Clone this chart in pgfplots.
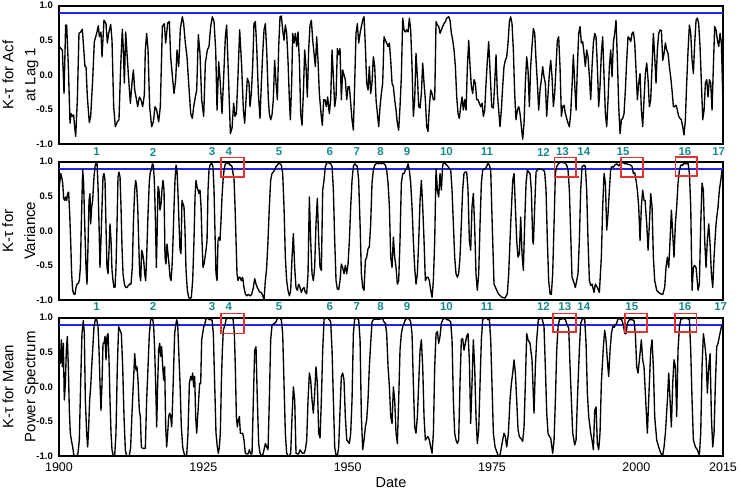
\documentclass[border=0pt]{standalone}
\usepackage{pgfplots}
\pgfplotsset{compat=1.18}
\usepackage{fontspec}
\setmainfont{Liberation Sans}
\definecolor{ktblue}{RGB}{35,35,235}
\definecolor{ktred}{RGB}{228,50,50}
\definecolor{ktteal}{RGB}{25,138,140}
\pgfplotsset{
  ktpanel/.style={
    scale only axis, width=664pt, height=138.3pt,
    xmin=1900, xmax=2015, ymin=-1, ymax=1, clip=false,
    axis line style={line width=1.8pt},
    major tick length=0pt,
    ytick={-1,-0.5,0,0.5,1}, yticklabels={-1.0,-0.5,0.0,0.5,1.0},
    yticklabel style={font=\bfseries\fontsize{9.5}{10}\selectfont, inner sep=0pt, xshift=-6pt},
    xtick={1900,1925,1950,1975,2000,2015}, xticklabels={},
    ylabel style={font=\fontsize{15}{22}\selectfont, align=center, inner sep=0pt, anchor=south},
  },
  curve/.style={black, line width=1.35pt, line join=round, no markers},
  thr/.style={ktblue, line width=1.8pt, no markers},
}
\tikzset{
  num/.style={font=\bfseries\fontsize{11.5}{12}\selectfont, text=ktteal},
  box/.style={ktred, line width=1.6pt},
}
\begin{document}
\begin{tikzpicture}
\useasboundingbox (-59pt,0pt) rectangle (682pt,-492pt);

% ---------- panel 1: acf at lag 1
\begin{axis}[ktpanel, at={(0pt,-5.7pt)}, anchor=north west,
  ylabel={K-τ for Acf\\at Lag 1},
  ylabel style={at={(axis description cs:-0.0306,0.5)}}]
\addplot[thr] coordinates {(1900,0.89) (2015,0.89)};
\addplot[curve] coordinates {
(1900.06,0.41)(1900.35,0.38)(1900.58,0.36)(1900.87,-0.27)(1901.15,0.72)(1901.33,0.72)(1901.62,0.12)(1901.91,-0.70)
(1902.08,-0.56)(1902.31,-0.60)(1902.54,-0.58)(1902.71,-0.75)(1902.89,-0.89)(1903.18,-0.36)(1903.46,0.60)(1903.75,0.62)
(1904.04,0.66)(1904.21,0.46)(1904.50,0.12)(1904.68,0.12)(1904.91,-0.32)(1905.25,-0.69)(1905.49,-0.60)(1905.83,-0.07)
(1906.12,0.48)(1906.52,0.60)(1906.81,0.71)(1906.99,0.55)(1907.27,0.62)(1907.45,0.26)(1907.79,0.79)(1908.14,0.74)
(1908.37,0.46)(1908.60,0.60)(1908.95,0.73)(1909.18,0.50)(1909.47,-0.46)(1909.76,-0.75)(1910.10,-0.68)(1910.39,-0.65)
(1910.68,0.12)(1910.97,0.66)(1911.14,0.36)(1911.32,-0.12)(1911.55,0.62)(1911.78,0.31)(1912.07,-0.07)(1912.36,-0.41)
(1912.64,-0.12)(1912.88,0.07)(1913.11,-0.22)(1913.34,-0.32)(1913.63,-0.46)(1913.91,-0.32)(1914.20,-0.36)(1914.49,-0.46)
(1914.78,-0.29)(1914.95,0.36)(1915.18,0.60)(1915.42,0.36)(1915.70,-0.46)(1916.05,-0.75)(1916.34,-0.68)(1916.63,-0.46)
(1916.92,-0.51)(1917.26,-0.68)(1917.55,-0.46)(1917.90,0.70)(1918.24,0.74)(1918.48,0.46)(1918.82,0.75)(1919.11,0.77)
(1919.34,0.26)(1919.69,-0.07)(1919.92,-0.27)(1920.21,-0.07)(1920.44,0.36)(1920.73,0.12)(1921.02,0.67)(1921.36,0.84)
(1921.59,0.74)(1921.88,0.46)(1922.17,0.26)(1922.46,-0.12)(1922.81,-0.56)(1923.09,-0.63)(1923.33,-0.46)(1923.61,-0.32)
(1923.85,-0.22)(1924.13,0.58)(1924.42,0.31)(1924.71,-0.36)(1925.06,-0.60)(1925.35,0.17)(1925.69,0.36)(1925.98,0.41)
(1926.27,0.70)(1926.56,0.84)(1926.85,0.77)(1927.14,0.36)(1927.37,-0.51)(1927.66,0.19)(1927.94,-0.12)(1928.23,-0.56)
(1928.52,-0.03)(1928.81,0.55)(1929.04,0.72)(1929.39,-0.12)(1929.68,-0.85)(1929.97,-0.77)(1930.25,-0.41)(1930.48,-0.60)
(1930.72,-0.56)(1930.95,-0.12)(1931.29,0.65)
(1931.64,0.12)(1931.93,-0.51)(1932.16,-0.70)(1932.39,-0.36)(1932.62,-0.05)(1932.91,-0.12)(1933.08,-0.46)(1933.31,-0.27)
(1933.54,0.12)(1933.77,0.74)(1934.01,0.77)(1934.24,0.41)(1934.53,-0.27)(1934.81,-0.63)(1935.05,-0.12)(1935.28,0.31)
(1935.51,0.65)(1935.74,0.74)(1935.97,0.36)(1936.26,-0.36)(1936.43,-0.56)(1936.66,-0.65)(1936.89,-0.58)(1937.12,-0.36)
(1937.35,0.21)(1937.59,-0.12)(1937.82,-0.36)(1938.05,0.41)(1938.28,0.84)(1938.51,0.85)(1938.74,0.65)(1938.97,0.50)
(1939.20,0.72)(1939.43,0.60)(1939.66,0.21)(1939.90,-0.36)(1940.07,-0.65)(1940.30,-0.12)(1940.47,0.60)(1940.70,0.46)
(1940.93,0.60)(1941.17,0.41)(1941.40,0.62)(1941.63,0.21)(1941.86,-0.56)(1942.09,-0.73)(1942.32,-0.27)(1942.55,0.36)
(1942.78,0.12)(1943.01,-0.32)(1943.24,0.36)(1943.47,0.72)(1943.71,0.79)(1943.94,0.50)(1944.17,0.31)(1944.40,0.12)
(1944.63,0.55)(1944.86,0.21)(1945.09,-0.27)(1945.38,-0.56)(1945.61,-0.73)(1945.84,-0.36)(1946.07,-0.36)(1946.30,-0.46)
(1946.53,-0.32)(1946.82,-0.56)(1947.05,-0.36)(1947.29,0.36)(1947.52,-0.03)(1947.75,-0.46)(1947.98,-0.32)(1948.21,0.38)
(1948.44,0.29)(1948.67,0.38)(1948.90,-0.36)(1949.13,0.07)(1949.36,0.00)(1949.59,-0.07)(1949.83,-0.36)(1950.06,-0.17)
(1950.29,-0.17)(1950.52,-0.41)(1950.75,-0.65)(1950.98,-0.80)(1951.21,-0.12)(1951.44,0.60)(1951.67,0.74)(1951.90,0.46)
(1952.14,0.60)(1952.37,0.70)(1952.60,0.79)(1952.83,0.84)(1953.06,0.41)(1953.29,-0.12)(1953.52,-0.22)(1953.75,0.12)
(1953.98,-0.27)(1954.21,-0.12)(1954.44,0.26)(1954.68,0.12)(1954.91,-0.36)(1955.14,-0.56)(1955.37,-0.75)(1955.60,-0.46)
(1955.83,-0.27)(1956.06,-0.12)(1956.29,0.55)(1956.52,0.50)(1956.75,0.46)(1956.99,0.41)(1957.22,0.46)(1957.45,0.21)
(1957.68,-0.12)(1957.91,-0.17)(1958.14,-0.36)(1958.37,-0.51)(1958.60,-0.70)(1958.83,-0.80)(1959.06,-0.46)(1959.29,-0.03)
(1959.53,0.82)(1959.76,0.65)(1959.99,0.62)(1960.22,0.65)(1960.45,0.62)(1960.68,0.82)(1960.91,0.65)(1961.14,0.12)
(1961.37,-0.60)(1961.60,-0.36)(1961.83,0.31)(1962.07,-0.03)(1962.30,-0.46)(1962.53,-0.48)(1962.76,-0.27)(1962.99,0.17)
(1963.22,-0.12)(1963.45,-0.36)(1963.68,-0.75)(1963.91,-0.82)(1964.14,-0.46)(1964.38,-0.22)(1964.61,-0.27)(1964.84,-0.36)
(1965.07,-0.36)(1965.30,0.77)(1965.53,0.72)(1965.76,0.70)(1965.99,0.60)(1966.22,0.65)(1966.45,0.70)(1966.68,0.74)
(1966.92,0.77)(1967.15,0.82)(1967.49,0.84)(1967.72,0.79)(1967.96,0.60)(1968.19,0.50)(1968.42,0.36)(1968.65,0.12)
(1968.88,-0.32)(1969.11,-0.56)(1969.34,-0.63)(1969.57,-0.46)(1969.80,-0.32)(1970.03,-0.51)(1970.26,-0.36)(1970.50,-0.51)
(1970.73,0.12)(1970.96,0.50)(1971.19,0.12)(1971.42,-0.17)(1971.65,-0.27)(1971.88,-0.07)(1972.11,-0.12)(1972.34,-0.36)
(1972.57,-0.36)(1972.80,-0.41)(1973.04,-0.46)(1973.27,-0.41)(1973.50,-0.60)(1973.73,-0.51)(1973.96,-0.12)(1974.19,0.21)
(1974.42,0.48)
(1974.94,-0.46)(1975.23,-0.48)(1975.46,-0.12)(1975.69,0.29)(1975.92,-0.27)(1976.15,-0.51)(1976.38,-0.75)(1976.61,-0.51)
(1976.84,-0.17)(1977.07,0.12)(1977.31,0.21)(1977.54,0.26)(1977.77,0.46)(1978.00,0.77)(1978.23,0.84)(1978.46,0.74)
(1978.69,0.36)(1978.92,-0.27)(1979.15,-0.65)(1979.38,-0.51)(1979.62,-0.46)(1979.85,-0.56)(1980.08,-0.75)(1980.31,-0.93)
(1980.54,-0.70)(1980.77,-0.12)(1981.00,0.26)(1981.23,0.07)(1981.46,-0.46)(1981.69,0.12)(1981.92,0.41)(1982.16,0.67)
(1982.39,0.60)(1982.62,0.21)(1982.85,-0.12)(1983.08,-0.51)(1983.31,-0.22)(1983.54,-0.07)(1983.77,0.12)(1984.00,-0.03)
(1984.23,-0.12)(1984.47,-0.60)(1984.70,-0.27)(1984.93,0.02)(1985.16,0.21)(1985.39,-0.03)(1985.62,-0.46)(1985.85,-0.27)
(1986.08,0.12)(1986.31,0.50)(1986.54,0.55)(1986.77,0.12)(1987.01,-0.60)(1987.24,-0.46)(1987.47,-0.44)(1987.70,-0.56)
(1987.93,-0.63)(1988.16,-0.70)(1988.39,-0.75)(1988.62,-0.56)(1988.85,-0.17)(1989.08,0.29)(1989.31,-0.12)(1989.55,-0.51)
(1989.78,0.12)(1990.01,0.60)(1990.24,0.70)(1990.47,0.46)(1990.70,0.48)(1990.93,0.31)(1991.16,0.12)(1991.39,0.36)
(1991.62,0.26)(1991.86,-0.03)(1992.09,-0.36)(1992.32,0.12)(1992.55,0.46)(1992.78,0.60)(1993.01,0.55)(1993.24,0.12)
(1993.47,-0.46)(1993.70,-0.17)(1993.93,0.31)(1994.16,0.55)(1994.40,-0.03)(1994.63,-0.56)(1994.86,-0.75)(1995.09,-0.36)
(1995.32,0.12)(1995.55,0.36)(1995.78,-0.03)(1996.01,0.46)(1996.24,0.60)(1996.47,0.79)(1996.71,0.21)(1996.94,-0.46)
(1997.17,-0.85)(1997.40,-0.65)(1997.63,-0.63)(1997.86,-0.56)(1998.09,-0.22)(1998.32,0.21)(1998.55,0.55)(1998.78,0.53)
(1999.02,0.48)(1999.25,0.60)(1999.48,0.62)(1999.71,0.46)(1999.94,0.07)(2000.17,-0.36)(2000.40,-0.12)(2000.63,0.02)
(2000.86,-0.51)(2001.09,-0.75)(2001.32,-0.36)(2001.55,0.02)(2001.79,0.17)(2002.02,-0.07)(2002.25,-0.46)(2002.48,-0.36)
(2002.71,0.12)(2002.94,0.60)(2003.17,0.26)(2003.40,-0.12)(2003.63,0.36)(2003.86,0.60)(2004.10,0.65)(2004.33,0.64)
(2004.56,0.21)(2004.79,0.31)(2005.02,0.46)(2005.25,0.36)(2005.48,0.31)(2005.71,0.12)(2005.94,-0.03)(2006.17,-0.22)
(2006.41,-0.46)(2006.64,-0.46)(2006.87,-0.44)(2007.10,-0.51)(2007.33,-0.60)(2007.56,-0.63)(2007.79,-0.65)(2008.02,-0.75)
(2008.25,-0.87)(2008.48,-0.65)(2008.71,-0.12)(2008.95,0.36)(2009.18,0.72)(2009.41,0.60)(2009.64,0.21)(2009.87,0.02)
(2010.10,0.46)(2010.33,0.79)(2010.56,0.82)(2010.79,0.74)(2011.02,0.41)(2011.26,-0.12)(2011.49,-0.65)(2011.72,-0.51)
(2011.95,-0.12)(2012.18,-0.07)(2012.41,-0.32)(2012.64,-0.07)(2012.87,-0.12)(2013.10,-0.51)(2013.33,0.12)(2013.56,0.70)
(2013.79,0.65)(2014.03,0.50)(2014.26,0.41)(2014.49,0.60)(2014.72,0.46)(2014.95,-0.27)
};
\end{axis}

% ---------- panel 2: variance
\begin{axis}[ktpanel, at={(0pt,-161.7pt)}, anchor=north west,
  ylabel={K-τ for\\Variance},
  ylabel style={at={(axis description cs:-0.0354,0.5)}}]
\addplot[thr] coordinates {(1900,0.9) (2015,0.9)};
\addplot[curve] coordinates {
(1900.06,0.64)(1900.29,0.83)(1900.46,0.78)(1900.64,0.69)(1900.81,0.47)(1900.98,0.44)(1901.15,0.49)(1901.33,0.44)
(1901.50,0.54)(1901.67,0.56)(1901.85,0.25)(1902.02,-0.14)(1902.19,-0.62)(1902.37,-0.86)(1902.54,-0.91)(1902.77,-0.92)
(1902.94,-0.82)(1903.12,-0.77)(1903.35,-0.76)(1903.52,-0.72)(1903.70,-0.53)(1903.87,0.10)(1904.10,0.89)(1904.27,0.69)
(1904.45,0.10)(1904.68,-0.53)(1904.85,-0.77)(1905.02,-0.23)(1905.20,0.44)(1905.37,0.54)(1905.49,0.10)(1905.66,0.35)
(1905.83,0.44)(1906.06,0.78)(1906.24,0.93)(1906.41,0.99)(1906.58,0.99)(1906.76,0.64)(1906.93,0.10)(1907.10,-0.53)
(1907.27,-0.14)(1907.45,0.35)(1907.62,0.78)(1907.79,0.83)(1907.97,0.73)(1908.14,0.06)(1908.31,-0.53)(1908.49,-0.62)
(1908.66,-0.28)(1908.83,0.10)(1909.01,-0.14)(1909.18,-0.57)(1909.35,-0.72)(1909.53,-0.82)(1909.70,-0.82)(1909.87,-0.53)
(1910.05,0.10)(1910.22,0.78)(1910.39,0.85)(1910.57,0.78)(1910.74,0.35)(1910.91,-0.23)(1911.09,-0.62)(1911.32,-0.77)
(1911.55,-0.82)(1911.78,-0.82)(1912.01,-0.79)(1912.24,-0.77)(1912.47,-0.77)(1912.70,-0.53)(1912.88,0.10)(1913.11,0.59)
(1913.28,0.73)(1913.45,0.64)(1913.63,0.35)(1913.80,-0.14)(1913.97,-0.62)(1914.15,-0.72)(1914.32,-0.28)(1914.49,-0.33)
(1914.67,-0.43)(1914.84,-0.62)(1915.01,-0.72)(1915.18,-0.38)(1915.42,0.25)(1915.65,0.73)(1915.82,0.85)(1915.99,0.88)
(1916.17,0.97)(1916.34,0.95)(1916.51,0.73)(1916.69,0.20)(1916.86,-0.53)(1916.97,-0.14)(1917.15,0.64)(1917.32,0.59)
(1917.49,0.30)(1917.67,0.39)(1917.84,0.59)(1918.01,0.73)(1918.19,0.59)(1918.36,-0.38)(1918.53,-0.48)(1918.71,-0.19)
(1918.88,-0.33)(1919.05,-0.48)(1919.23,-0.67)(1919.40,-0.72)(1919.57,-0.53)(1919.75,-0.14)(1919.92,0.35)(1920.09,0.73)
(1920.27,0.95)(1920.44,0.88)(1920.61,0.54)(1920.79,0.10)(1920.96,-0.28)(1921.13,-0.33)(1921.30,0.44)(1921.48,0.39)
(1921.65,0.35)(1921.82,0.01)(1922.00,-0.57)(1922.23,-0.86)(1922.46,-0.96)(1922.69,-0.99)(1922.92,-0.96)(1923.15,-0.72)
(1923.38,-0.14)(1923.56,0.49)(1923.73,0.73)(1923.90,0.64)(1924.08,0.59)(1924.25,0.54)(1924.42,0.59)(1924.60,0.35)
(1924.77,-0.14)(1924.94,-0.53)(1925.12,-0.48)(1925.29,-0.38)(1925.46,-0.28)(1925.64,-0.14)(1925.81,0.59)(1925.98,0.88)
(1926.15,0.95)(1926.33,0.97)(1926.50,0.97)(1926.67,0.93)(1926.85,0.59)(1927.02,-0.04)(1927.19,-0.62)(1927.37,-0.72)
(1927.54,-0.14)(1927.71,-0.09)(1927.89,-0.14)(1928.06,0.15)(1928.23,0.49)(1928.41,0.73)(1928.58,0.88)(1928.75,0.95)
(1928.93,0.98)(1929.10,0.99)(1929.27,0.97)(1929.45,0.98)(1929.62,0.95)(1929.79,0.95)(1929.97,0.93)(1930.14,0.83)
(1930.31,0.76)(1930.49,0.35)(1930.66,-0.14)(1930.83,-0.62)(1931.00,-0.72)(1931.18,-0.67)(1931.35,-0.67)
(1931.58,-0.72)(1931.81,-0.67)(1932.04,-0.82)(1932.27,-0.91)(1932.50,-0.94)(1932.79,-0.92)(1933.08,-0.94)(1933.37,-0.92)
(1933.66,-0.82)(1933.89,-0.69)(1934.12,-0.77)(1934.35,-0.82)(1934.58,-0.86)(1934.81,-0.89)(1935.05,-0.89)(1935.28,-0.94)
(1935.51,-0.99)(1935.74,-0.72)(1935.97,-0.53)(1936.20,-0.14)(1936.43,0.35)(1936.66,0.73)(1936.89,0.83)(1937.12,0.85)
(1937.35,0.88)(1937.59,0.93)(1937.82,0.95)(1938.05,0.98)(1938.28,0.97)(1938.51,0.95)(1938.74,0.83)(1938.97,0.35)
(1939.20,-0.38)(1939.43,-0.72)(1939.66,-0.86)(1939.90,-0.94)(1940.13,-0.86)(1940.36,-0.38)(1940.59,-0.04)(1940.82,-0.53)
(1941.05,-0.82)(1941.28,-0.86)(1941.51,-0.77)(1941.74,-0.82)(1941.97,-0.89)(1942.20,-0.84)(1942.44,-0.82)(1942.67,-0.89)
(1942.90,-0.91)(1943.13,-0.62)(1943.36,0.49)(1943.59,-0.14)(1943.82,-0.62)(1944.05,-0.72)(1944.28,-0.53)(1944.51,0.10)
(1944.74,0.47)(1944.98,-0.14)(1945.21,-0.53)(1945.44,-0.57)(1945.67,0.59)(1945.90,0.73)(1946.13,0.93)(1946.36,0.98)
(1946.59,0.99)(1946.82,0.98)(1947.05,0.97)(1947.29,0.93)(1947.52,0.59)(1947.75,-0.14)(1947.98,-0.72)(1948.21,-0.84)
(1948.44,-0.85)(1948.67,-0.72)(1948.90,-0.48)(1949.13,-0.53)(1949.36,-0.62)(1949.59,-0.50)(1949.83,-0.62)(1950.06,-0.48)
(1950.29,-0.14)(1950.52,0.35)(1950.75,0.73)(1950.98,0.93)(1951.21,0.97)(1951.44,0.95)(1951.67,0.93)(1951.90,0.73)
(1952.14,0.10)(1952.37,-0.62)(1952.60,-0.82)(1952.83,-0.86)(1953.06,-0.43)(1953.29,-0.38)(1953.52,-0.26)(1953.75,-0.23)
(1953.98,0.10)(1954.21,0.69)(1954.44,0.88)(1954.68,0.95)(1954.91,0.97)(1955.14,0.98)(1955.37,0.97)(1955.60,0.98)
(1955.83,0.97)(1956.06,0.98)(1956.29,0.97)(1956.52,0.95)(1956.75,0.88)(1956.99,0.69)(1957.22,0.35)(1957.45,-0.38)
(1957.68,-0.53)(1957.91,-0.09)(1958.14,-0.38)(1958.37,-0.53)(1958.60,-0.77)(1958.83,-0.72)(1959.06,-0.14)(1959.29,0.69)
(1959.53,0.83)(1959.76,0.83)(1959.99,0.88)(1960.22,0.90)(1960.45,0.97)(1960.68,0.88)(1960.91,0.69)(1961.14,0.35)
(1961.37,-0.14)(1961.60,-0.53)(1961.83,-0.77)(1962.07,-0.62)(1962.30,-0.14)(1962.53,0.44)(1962.76,0.73)(1962.99,0.35)
(1963.22,-0.14)(1963.45,-0.72)(1963.68,-0.67)(1963.91,-0.67)(1964.14,-0.72)(1964.38,-0.86)(1964.61,-0.96)(1964.84,-0.72)
(1965.07,-0.14)(1965.30,0.90)(1965.53,0.59)(1965.76,0.49)(1965.99,0.83)(1966.22,0.59)(1966.45,0.95)(1966.68,0.99)
(1966.92,0.97)(1967.15,0.95)(1967.38,0.93)(1967.61,0.90)(1967.84,0.88)(1968.07,0.59)(1968.30,0.10)(1968.53,-0.38)
(1968.76,-0.62)(1968.99,-0.67)(1969.22,-0.62)(1969.45,-0.38)(1969.68,0.10)(1969.91,0.59)(1970.14,0.83)(1970.37,0.85)
(1970.61,0.85)(1970.84,0.59)(1971.07,-0.14)(1971.30,-0.28)(1971.53,0.35)(1971.76,0.54)(1971.99,0.06)(1972.22,-0.62)
(1972.45,-0.86)(1972.69,-0.62)(1972.92,0.10)(1973.15,0.69)(1973.38,0.88)(1973.61,0.89)(1973.84,0.90)(1974.07,0.93)
(1974.30,0.98)(1974.53,0.95)(1974.77,0.88)
(1974.94,0.35)(1975.34,-0.77)(1976.09,-0.91)(1976.67,-0.96)(1977.25,-0.97)(1977.65,-0.91)(1977.88,-0.62)(1978.23,0.10)
(1978.58,0.73)(1978.81,0.83)(1979.04,0.35)(1979.27,-0.14)(1979.50,-0.38)(1979.73,-0.33)(1979.96,0.20)(1980.19,-0.33)
(1980.42,-0.57)(1980.65,0.10)(1980.89,0.69)(1981.12,0.88)(1981.35,0.85)(1981.58,0.83)(1981.81,0.59)(1982.04,-0.14)
(1982.16,-0.19)(1982.39,0.35)(1982.62,0.85)(1982.85,0.88)(1983.08,0.90)(1983.31,0.89)(1983.54,0.89)(1983.89,0.88)
(1984.12,0.85)(1984.35,0.59)(1984.58,-0.14)(1984.81,-0.72)(1985.04,-0.91)(1985.27,-0.92)(1985.50,-0.62)(1985.74,0.10)
(1985.97,0.83)(1986.20,0.93)(1986.49,0.97)(1986.77,0.99)(1987.24,0.99)(1987.64,0.98)(1987.93,0.95)(1988.16,0.88)
(1988.39,0.59)(1988.62,-0.04)(1988.85,-0.67)(1989.08,-0.72)(1989.43,-0.82)(1989.66,-0.72)(1989.89,-0.62)(1990.12,-0.14)
(1990.35,0.59)(1990.59,0.93)(1990.93,0.95)(1991.16,0.93)(1991.39,0.59)(1991.62,-0.14)(1991.86,-0.72)(1992.09,-0.79)
(1992.32,-0.77)(1992.66,-0.89)(1992.89,-0.77)(1993.24,-0.82)(1993.59,-0.89)(1993.93,-0.38)(1994.16,0.35)(1994.40,0.83)
(1994.63,0.69)(1994.86,0.01)(1995.09,0.25)(1995.32,0.59)(1995.55,0.90)(1995.78,0.93)(1996.01,0.92)(1996.24,0.95)
(1996.59,0.97)(1996.94,0.94)(1997.28,0.98)(1997.63,0.99)(1997.98,0.97)(1998.32,0.97)(1998.67,0.96)(1999.02,0.95)
(1999.25,0.93)(1999.48,0.83)(1999.71,0.84)(1999.94,0.73)(2000.17,0.59)(2000.40,0.35)(2000.63,-0.14)(2000.86,0.35)
(2001.09,0.59)(2001.32,0.44)(2001.50,0.44)(2001.79,0.10)(2002.02,-0.28)(2002.25,0.10)(2002.48,0.54)(2002.71,0.35)
(2002.94,-0.38)(2003.17,-0.72)(2003.52,-0.86)(2003.86,-0.89)(2004.21,-0.91)(2004.56,-0.92)(2004.90,-0.82)(2005.13,-0.53)
(2005.37,-0.38)(2005.60,-0.53)(2005.83,-0.14)(2006.06,0.30)(2006.29,-0.04)(2006.52,-0.38)(2006.75,0.10)(2006.98,0.35)
(2007.21,0.69)(2007.45,0.88)(2007.68,0.95)(2008.02,0.95)(2008.25,0.98)(2008.48,0.97)(2008.71,0.97)(2008.95,0.98)
(2009.18,0.83)(2009.41,0.35)(2009.64,-0.86)(2009.87,-0.53)(2010.10,-0.50)(2010.33,-0.53)(2010.68,-0.86)(2010.91,-0.77)
(2011.14,0.10)(2011.37,0.69)(2011.60,0.59)(2011.83,-0.14)(2012.06,-0.53)(2012.29,-0.14)(2012.53,0.10)(2012.76,-0.19)
(2012.99,-0.62)(2013.22,-0.82)(2013.45,-0.38)(2013.79,0.10)(2014.14,0.35)(2014.37,0.59)(2014.61,0.73)(2014.84,0.88)
};
\draw[box] (axis cs:1928.1,0.78) rectangle (axis cs:1932.0,1.06);
\draw[box] (axis cs:1985.8,0.78) rectangle (axis cs:1989.5,1.06);
\draw[box] (axis cs:1989.5,0.78) -- (axis cs:1990.1,0.78);
\draw[box] (axis cs:1997.3,0.78) rectangle (axis cs:2001.1,1.06);
\draw[box] (axis cs:2006.8,0.79) rectangle (axis cs:2010.5,1.07);
\node[num] at (axis cs:1906.5,1.14) {1};
\node[num] at (axis cs:1916.3,1.14) {2};
\node[num] at (axis cs:1926.5,1.14) {3};
\node[num] at (axis cs:1929.4,1.14) {4};
\node[num] at (axis cs:1938.1,1.14) {5};
\node[num] at (axis cs:1946.9,1.14) {6};
\node[num] at (axis cs:1951.6,1.14) {7};
\node[num] at (axis cs:1955.7,1.14) {8};
\node[num] at (axis cs:1960.3,1.14) {9};
\node[num] at (axis cs:1967.1,1.14) {10};
\node[num] at (axis cs:1974.1,1.14) {11};
\node[num] at (axis cs:1983.9,1.14) {12};
\node[num] at (axis cs:1987.2,1.14) {13};
\node[num] at (axis cs:1990.9,1.14) {14};
\node[num] at (axis cs:1997.7,1.14) {15};
\node[num] at (axis cs:2008.4,1.14) {16};
\node[num] at (axis cs:2014.25,1.14) {17};
\end{axis}

% ---------- panel 3: mean power spectrum
\begin{axis}[ktpanel, at={(0pt,-317.7pt)}, anchor=north west,
  ylabel={K-τ for Mean\\Power Spectrum},
  ylabel style={at={(axis description cs:-0.0306,0.5)}},
  xticklabels={1900,1925,1950,1975,2000,2015},
  xticklabel style={font=\fontsize{12.5}{13}\selectfont, anchor=base, inner sep=0pt, yshift=-15pt},
  xlabel={Date},
  xlabel style={font=\fontsize{14.5}{15}\selectfont, inner sep=0pt, anchor=base, at={(axis description cs:0.5,-0.2278)}}]
\addplot[thr] coordinates {(1900,0.9) (2015,0.9)};
\addplot[curve] coordinates {
(1900.06,0.39)(1900.23,0.34)(1900.40,0.68)(1900.58,0.29)(1900.75,0.63)(1900.92,-0.19)(1901.10,0.05)(1901.27,0.53)
(1901.44,0.73)(1901.62,0.29)(1901.79,-0.34)(1901.96,-0.67)(1902.14,-0.77)(1902.37,-0.87)(1902.60,-1.00)(1902.83,-1.00)
(1903.06,-1.00)(1903.29,-0.96)(1903.52,-0.77)(1903.75,0.05)(1903.98,0.77)(1904.21,0.96)(1904.39,0.77)(1904.56,-0.19)
(1904.79,-0.67)(1904.97,-0.87)(1905.14,-0.58)(1905.31,-0.19)(1905.49,0.00)(1905.66,0.29)(1905.83,0.53)(1906.06,0.87)
(1906.29,0.97)(1906.52,0.98)(1906.76,0.87)(1906.93,0.53)(1907.10,0.05)(1907.27,-0.34)(1907.45,0.05)(1907.62,0.63)
(1907.79,0.63)(1907.97,0.73)(1908.14,0.39)(1908.31,0.73)(1908.49,0.77)(1908.66,0.39)(1908.83,-0.19)(1909.01,-0.67)
(1909.18,-0.91)(1909.41,-1.00)(1909.64,-1.00)(1909.87,-0.67)(1910.10,0.29)(1910.33,0.87)(1910.57,0.82)(1910.80,0.77)
(1911.03,0.29)(1911.26,-0.43)(1911.49,-0.91)(1911.72,-1.00)(1911.95,-1.00)(1912.18,-1.00)(1912.41,-0.87)(1912.64,-0.38)
(1912.88,0.05)(1913.11,0.48)(1913.34,0.24)(1913.51,0.29)(1913.68,0.10)(1913.91,-0.34)(1914.09,-0.43)(1914.26,-0.87)
(1914.49,-0.89)(1914.72,-0.89)(1914.95,-0.89)(1915.18,-0.19)(1915.42,0.29)(1915.65,0.77)(1915.88,0.97)(1916.05,0.99)
(1916.22,0.99)(1916.40,0.87)(1916.57,0.53)(1916.74,0.05)(1916.92,-0.58)(1917.09,0.05)(1917.26,0.53)(1917.44,0.63)
(1917.61,0.44)(1917.78,0.58)(1917.96,0.29)(1918.13,0.10)(1918.30,0.29)(1918.48,-0.58)(1918.65,-0.87)(1918.82,-0.67)
(1919.00,-0.43)(1919.17,-0.38)(1919.34,-0.43)(1919.52,-0.58)(1919.69,-0.19)(1919.86,0.29)(1920.03,0.77)(1920.21,0.89)
(1920.38,0.97)(1920.55,0.92)(1920.73,0.53)(1920.96,0.05)(1921.19,-0.58)(1921.42,-0.87)(1921.65,-0.96)(1921.88,-1.00)
(1922.11,-1.00)(1922.34,-0.67)(1922.58,0.05)(1922.81,0.15)(1922.98,0.10)(1923.15,0.20)(1923.33,0.00)(1923.50,0.15)
(1923.67,-0.43)(1923.85,-0.67)(1924.02,-0.43)(1924.19,-0.19)(1924.36,0.05)(1924.54,0.05)(1924.71,0.68)(1924.88,0.77)
(1925.06,0.87)(1925.23,0.89)(1925.40,0.97)(1925.58,0.99)(1925.81,0.99)(1926.04,0.97)(1926.27,0.97)(1926.50,0.97)
(1926.73,0.77)(1926.96,0.05)(1927.19,-0.67)(1927.42,-0.87)(1927.60,-0.96)(1927.77,-0.87)(1927.94,-0.67)(1928.12,0.05)
(1928.29,0.53)(1928.46,0.82)(1928.64,0.87)(1928.81,0.92)(1928.98,0.99)(1929.21,0.99)(1929.45,0.99)(1929.68,0.99)
(1929.91,0.99)(1930.14,0.99)(1930.37,0.77)(1930.54,0.29)(1930.72,-0.43)(1930.89,-0.58)(1931.06,-0.48)(1931.24,-0.43)
(1931.41,-0.67)
(1931.58,-0.67)(1931.81,-0.67)(1932.04,-0.77)(1932.27,-0.96)(1932.50,-0.97)(1932.74,-0.97)(1932.97,-0.91)(1933.20,-0.97)
(1933.43,-0.97)(1933.66,-0.19)(1933.89,0.53)(1934.12,0.58)(1934.35,-0.19)(1934.58,-0.82)(1934.81,-0.96)(1935.05,-0.99)
(1935.28,-0.99)(1935.51,-0.91)(1935.74,-0.82)(1935.97,-0.87)(1936.20,-0.91)(1936.43,-0.19)(1936.66,0.68)(1936.89,0.89)
(1937.12,0.91)(1937.35,0.92)(1937.59,0.94)(1937.82,0.99)(1938.05,1.00)(1938.28,0.99)(1938.51,0.97)(1938.74,0.77)
(1938.97,0.05)(1939.20,-0.67)(1939.43,-0.96)(1939.66,-1.00)(1939.90,-1.00)(1940.13,-0.96)(1940.36,-0.43)(1940.59,0.00)
(1940.82,-0.19)(1941.05,-0.96)(1941.28,-0.97)(1941.51,-0.97)(1941.74,-0.91)(1941.97,-0.94)(1942.20,-0.96)(1942.44,-0.96)
(1942.67,-0.91)(1942.90,-0.77)(1943.13,-0.19)(1943.36,0.20)(1943.59,0.10)(1943.82,-0.19)(1944.05,-0.38)(1944.28,-0.09)
(1944.51,0.29)(1944.74,0.05)(1944.98,-0.67)(1945.21,-0.74)(1945.44,-0.19)(1945.67,0.53)(1945.90,0.97)(1946.13,0.99)
(1946.36,1.00)(1946.59,0.99)(1946.82,0.97)(1947.05,0.94)(1947.29,0.53)(1947.52,-0.19)(1947.75,-0.87)(1947.98,-0.99)
(1948.21,-1.00)(1948.44,-0.87)(1948.67,-0.34)(1948.90,0.15)(1949.13,0.20)(1949.36,0.10)(1949.59,-0.43)(1949.83,-0.77)
(1950.06,-0.79)(1950.29,-0.82)(1950.52,-0.67)(1950.75,-0.19)(1950.98,0.77)(1951.21,0.98)(1951.44,0.99)(1951.67,0.99)
(1951.90,0.97)(1952.14,0.68)(1952.37,-0.43)(1952.60,-0.91)(1952.83,-0.77)(1953.06,-0.58)(1953.29,-0.48)(1953.52,-0.19)
(1953.75,0.29)(1953.98,0.63)(1954.21,0.94)(1954.44,0.97)(1954.68,0.98)(1954.91,0.98)(1955.14,0.98)(1955.37,0.98)
(1955.60,0.98)(1955.83,0.99)(1956.06,0.98)(1956.29,0.94)(1956.52,0.92)(1956.75,0.77)(1956.99,0.29)(1957.22,0.00)
(1957.45,-0.43)(1957.68,-0.53)(1957.91,0.00)(1958.14,-0.19)(1958.37,-0.67)(1958.60,-0.82)(1958.83,-0.19)(1959.06,0.53)
(1959.29,0.77)(1959.53,0.87)(1959.76,0.92)(1959.99,0.97)(1960.22,0.99)(1960.45,0.99)(1960.68,0.98)(1960.91,0.94)
(1961.14,0.77)(1961.37,0.05)(1961.60,-0.58)(1961.83,-0.67)(1962.07,-0.43)(1962.30,0.05)(1962.53,0.53)(1962.76,0.68)
(1962.99,0.29)(1963.22,-0.43)(1963.45,-0.77)(1963.68,-0.74)(1963.91,-0.72)(1964.14,-0.77)(1964.38,-0.87)(1964.61,-0.96)
(1964.84,-0.67)(1965.07,0.29)(1965.30,0.77)(1965.53,0.80)(1965.76,0.63)(1965.99,0.73)(1966.22,0.92)(1966.45,0.97)
(1966.68,0.99)(1966.92,0.99)(1967.15,0.97)(1967.38,0.97)(1967.61,0.96)(1967.84,0.94)(1968.07,0.68)(1968.30,-0.19)
(1968.53,-0.67)(1968.76,-0.77)(1968.99,-0.82)(1969.22,-0.77)(1969.45,0.05)(1969.68,0.68)(1969.91,0.70)(1970.14,0.53)
(1970.37,0.63)(1970.61,0.73)(1970.84,0.77)(1971.07,0.39)(1971.30,-0.53)(1971.53,0.05)(1971.76,0.68)(1971.99,0.29)
(1972.22,-0.43)(1972.45,-0.82)(1972.69,-0.62)(1972.92,0.05)(1973.15,0.68)(1973.38,0.97)(1973.61,0.99)(1973.84,1.00)
(1974.07,0.99)(1974.30,0.97)(1974.53,0.99)(1974.77,0.68)
(1975.23,-0.67)(1975.52,-0.87)(1976.09,-1.00)(1976.38,-0.99)(1976.73,-0.82)(1977.07,-0.67)(1977.31,-0.72)(1977.54,-0.87)
(1977.83,-0.67)(1978.11,-0.19)(1978.35,0.05)(1978.58,0.20)(1978.81,0.39)(1979.04,0.20)(1979.27,-0.19)(1979.50,-0.62)
(1979.73,-0.72)(1979.96,-0.74)(1980.31,-0.79)(1980.54,-0.58)(1980.77,0.05)(1981.00,0.77)(1981.23,0.68)(1981.58,0.63)
(1981.92,0.39)(1982.27,-0.38)(1982.50,0.29)(1982.73,0.68)(1983.02,0.97)(1983.31,0.99)(1983.66,0.99)(1984.00,0.87)
(1984.23,0.29)(1984.47,-0.38)(1984.70,-0.67)(1984.93,-0.72)(1985.16,-0.74)(1985.50,-0.96)(1985.74,-0.77)(1985.97,-0.19)
(1986.20,0.53)(1986.43,0.87)(1986.66,0.97)(1987.01,0.98)(1987.35,0.99)(1987.70,0.97)(1988.04,0.89)(1988.28,0.85)
(1988.51,0.29)(1988.74,-0.19)(1988.97,-0.67)(1989.32,-0.84)(1989.55,-0.77)(1989.78,-0.19)(1990.12,0.53)(1990.35,0.92)
(1990.59,0.97)(1990.82,0.99)(1991.05,0.98)(1991.28,0.63)(1991.51,-0.09)(1991.74,-0.43)(1992.09,-0.67)(1992.32,-0.77)
(1992.55,-0.91)(1992.78,-0.34)(1993.01,-0.29)(1993.24,-0.82)(1993.47,-0.91)(1993.70,-0.67)(1993.93,0.05)(1994.28,0.58)
(1994.51,0.82)(1994.74,0.68)(1994.97,0.39)(1995.20,0.15)(1995.44,0.53)(1995.67,0.77)(1995.90,0.87)(1996.13,0.86)
(1996.36,0.89)(1996.59,0.92)(1996.82,0.99)(1997.17,0.98)(1997.46,0.97)(1997.75,0.89)(1997.98,0.77)(1998.21,0.77)
(1998.44,0.92)(1998.78,0.97)(1999.25,0.97)(1999.59,0.96)(1999.82,0.77)(2000.05,0.29)(2000.28,0.20)(2000.52,0.39)
(2000.86,0.68)(2001.09,0.39)(2001.32,0.29)(2001.55,-0.09)(2001.90,-0.67)(2002.13,-0.19)(2002.48,0.53)(2002.71,0.68)
(2002.94,0.29)(2003.17,-0.43)(2003.52,-0.77)(2003.86,-0.87)(2004.21,-0.96)(2004.56,-0.99)(2004.79,-0.87)(2005.02,-0.67)
(2005.37,-0.19)(2005.60,0.20)(2005.83,-0.19)(2006.06,-0.58)(2006.29,0.05)(2006.52,0.39)(2006.75,0.29)(2006.98,-0.43)
(2007.21,0.53)(2007.45,0.87)(2007.68,0.97)(2008.02,0.99)(2008.48,0.99)(2008.83,0.99)(2009.18,0.97)(2009.41,0.53)
(2009.64,-0.19)(2009.87,-0.77)(2010.22,-0.87)(2010.56,-0.91)(2010.91,-0.99)(2011.14,-0.67)(2011.37,0.29)(2011.60,0.77)
(2011.83,0.63)(2012.06,0.44)(2012.29,-0.09)(2012.53,0.29)(2012.76,0.48)(2012.99,-0.43)(2013.22,-0.87)(2013.45,-0.67)
(2013.68,0.05)(2013.91,0.58)(2014.14,0.63)(2014.37,0.73)(2014.72,0.87)(2014.95,0.89)
};
\draw[box] (axis cs:1928.1,0.77) rectangle (axis cs:1932.0,1.06);
\draw[box] (axis cs:1985.6,0.79) rectangle (axis cs:1989.5,1.06);
\draw[box] (axis cs:1998.0,0.79) rectangle (axis cs:2001.8,1.06);
\draw[box] (axis cs:2006.7,0.79) rectangle (axis cs:2010.4,1.06);
\node[num] at (axis cs:1906.5,1.155) {1};
\node[num] at (axis cs:1916.3,1.155) {2};
\node[num] at (axis cs:1926.5,1.155) {3};
\node[num] at (axis cs:1929.4,1.155) {4};
\node[num] at (axis cs:1938.1,1.155) {5};
\node[num] at (axis cs:1946.9,1.155) {6};
\node[num] at (axis cs:1951.6,1.155) {7};
\node[num] at (axis cs:1955.7,1.155) {8};
\node[num] at (axis cs:1960.3,1.155) {9};
\node[num] at (axis cs:1967.1,1.155) {10};
\node[num] at (axis cs:1974.1,1.155) {11};
\node[num] at (axis cs:1983.9,1.155) {12};
\node[num] at (axis cs:1987.6,1.155) {13};
\node[num] at (axis cs:1990.9,1.155) {14};
\node[num] at (axis cs:1999.2,1.155) {15};
\node[num] at (axis cs:2008.4,1.155) {16};
\node[num] at (axis cs:2014.6,1.155) {17};
\end{axis}
\end{tikzpicture}
\end{document}
